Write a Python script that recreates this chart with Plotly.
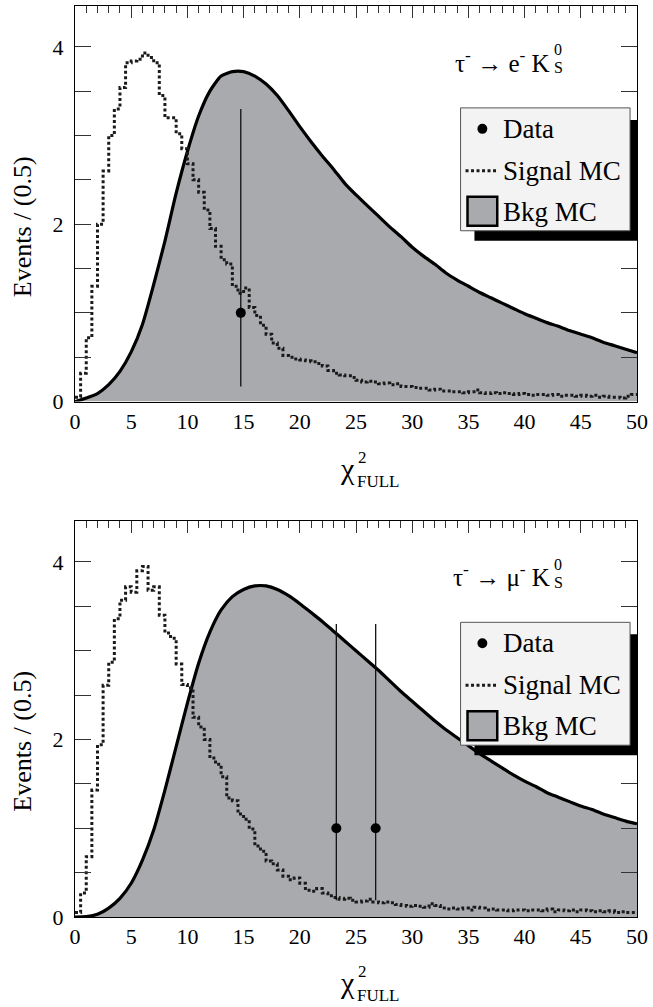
import plotly.graph_objects as go

# ---------------- data ----------------
bin_edges = [i * 0.5 for i in range(101)]  # 0.5-wide bins from 0 to 50

signal_top = [
    0.05, 0.32, 0.72, 1.30, 2.00, 2.60, 3.00, 3.30, 3.54, 3.82,
    3.84, 3.86, 3.93, 3.88, 3.82, 3.45, 3.20, 3.20, 3.02, 2.85,
    2.68, 2.50, 2.36, 2.16, 1.95, 1.75, 1.60, 1.55, 1.30, 1.22,
    1.28, 1.06, 0.97, 0.86, 0.76, 0.66, 0.60, 0.52, 0.50, 0.48,
    0.47, 0.46, 0.45, 0.43, 0.40, 0.35, 0.32, 0.30, 0.29, 0.27,
    0.24, 0.22, 0.23, 0.22, 0.20, 0.21, 0.19, 0.20, 0.17, 0.17,
    0.16, 0.15, 0.15, 0.13, 0.14, 0.12, 0.12, 0.11, 0.11, 0.10,
    0.11, 0.13, 0.10, 0.09, 0.10, 0.09, 0.10, 0.09, 0.08, 0.09,
    0.08, 0.07, 0.08, 0.08, 0.07, 0.08, 0.06, 0.07, 0.07, 0.06,
    0.07, 0.06, 0.07, 0.05, 0.06, 0.05, 0.05, 0.04, 0.06, 0.08,
]

signal_bot = [
    0.05, 0.27, 0.68, 1.43, 1.94, 2.61, 2.87, 3.36, 3.57, 3.72,
    3.66, 3.90, 3.95, 3.68, 3.72, 3.40, 3.20, 3.14, 2.85, 2.62,
    2.58, 2.25, 2.14, 2.00, 1.79, 1.72, 1.58, 1.34, 1.31, 1.16,
    1.10, 0.99, 0.80, 0.74, 0.63, 0.60, 0.53, 0.46, 0.42, 0.44,
    0.38, 0.30, 0.29, 0.32, 0.27, 0.24, 0.22, 0.20, 0.21, 0.19,
    0.17, 0.18, 0.20, 0.17, 0.16, 0.17, 0.16, 0.14, 0.13, 0.12,
    0.13, 0.12, 0.11, 0.15, 0.13, 0.10, 0.09, 0.10, 0.09, 0.10,
    0.08, 0.11, 0.10, 0.08, 0.09, 0.08, 0.08, 0.07, 0.08, 0.08,
    0.07, 0.08, 0.08, 0.07, 0.09, 0.06, 0.08, 0.07, 0.08, 0.06,
    0.08, 0.07, 0.06, 0.07, 0.06, 0.07, 0.05, 0.06, 0.05, 0.05,
]

bkg_x = list(range(0, 51))
bkg_top = [
    0.00, 0.04, 0.09, 0.19, 0.34, 0.56, 0.87, 1.32, 1.81, 2.35,
    2.82, 3.22, 3.50, 3.67, 3.72, 3.72, 3.67, 3.58, 3.45, 3.28,
    3.10, 2.93, 2.77, 2.62, 2.46, 2.33, 2.21, 2.09, 1.97, 1.86,
    1.74, 1.64, 1.55, 1.45, 1.37, 1.30, 1.23, 1.17, 1.11, 1.05,
    0.99, 0.94, 0.89, 0.85, 0.80, 0.76, 0.72, 0.67, 0.63, 0.59,
    0.55,
]
bkg_bot = [
    0.00, 0.005, 0.03, 0.10, 0.21, 0.38, 0.64, 0.98, 1.43, 1.92,
    2.41, 2.86, 3.21, 3.46, 3.61, 3.69, 3.73, 3.73, 3.69, 3.62,
    3.53, 3.43, 3.33, 3.22, 3.11, 3.00, 2.89, 2.78, 2.66, 2.54,
    2.43, 2.32, 2.21, 2.11, 2.02, 1.93, 1.84, 1.76, 1.68, 1.60,
    1.53, 1.47, 1.40, 1.35, 1.30, 1.25, 1.21, 1.16, 1.12, 1.08,
    1.05,
]

data_top_x = [14.75]
data_top_y = [1]
data_top_eup = [2.30]
data_top_edn = [0.83]

data_bot_x = [23.25, 26.75]
data_bot_y = [1, 1]
data_bot_eup = [2.30, 2.30]
data_bot_edn = [0.81, 0.81]

x_ticks = list(range(0, 51, 5))
y_ticks = [0, 2, 4]

# ---------------- style ----------------
FONT = "Liberation Serif"
FILL = "#a9aaad"
W, H = 653, 1007
ML, MR, MT, MB = 75, 11, 5, 90
PW, PH = W - ML - MR, H - MT - MB


def px(xp):
    return (xp - ML) / PW


def py(yp):
    return (H - MB - yp) / PH


top_dom = [py(401), 1.0]
bot_dom = [0.0, py(520.7)]

fig = go.Figure()


def step_xy(vals):
    xs = list(bin_edges[:-1]) + [bin_edges[-1]]
    ys = list(vals) + [vals[-1]]
    return xs, ys


for xa, ya, bkg, sig, dx, dy, eup, edn in [
    ("x", "y", bkg_top, signal_top, data_top_x, data_top_y, data_top_eup, data_top_edn),
    ("x2", "y2", bkg_bot, signal_bot, data_bot_x, data_bot_y, data_bot_eup, data_bot_edn),
]:
    fig.add_trace(go.Scatter(
        x=bkg_x, y=bkg, xaxis=xa, yaxis=ya, mode="lines",
        line=dict(color="black", width=3.2, shape="spline", smoothing=0.6),
        fill="tozeroy", fillcolor=FILL, showlegend=False, hoverinfo="skip"))
    sx, sy = step_xy(sig)
    fig.add_trace(go.Scatter(
        x=sx, y=sy, xaxis=xa, yaxis=ya, mode="lines",
        line=dict(color="#1a1a1a", width=3, shape="hv", dash="3px,2.5px"),
        showlegend=False, hoverinfo="skip"))
    fig.add_trace(go.Scatter(
        x=dx, y=dy, xaxis=xa, yaxis=ya, mode="markers",
        marker=dict(color="black", size=10),
        error_y=dict(type="data", symmetric=False, array=eup, arrayminus=edn,
                     width=0, thickness=1.3, color="#111"),
        showlegend=False, hoverinfo="skip"))

# invisible traces so that the top-tick overlay axes get drawn
for xa, ya in [("x3", "y"), ("x4", "y2")]:
    fig.add_trace(go.Scatter(x=[0], y=[0], xaxis=xa, yaxis=ya, mode="markers",
                             marker=dict(opacity=0), showlegend=False, hoverinfo="skip"))

tickfont = dict(family=FONT, size=22, color="black")

xbase = dict(range=[0, 50], showgrid=False, zeroline=False, showline=True,
             linecolor="black", linewidth=1, mirror=True, ticks="",
             tickvals=x_ticks, tickfont=tickfont)
xtop = dict(range=[0, 50], showgrid=False, zeroline=False, showline=False,
            side="top", ticks="inside", ticklen=12, tickwidth=1, tickcolor="#333",
            dtick=5, tick0=0, showticklabels=False,
            minor=dict(dtick=1, ticklen=7, ticks="inside", tickcolor="#333", tickwidth=1))
ybase = dict(range=[0, 4.46], showgrid=False, zeroline=False, showline=True,
             linecolor="black", linewidth=1, mirror="allticks", ticks="inside",
             ticklen=16, tickwidth=1, tickcolor="#333", tickvals=y_ticks,
             tickfont=tickfont, ticklabelstandoff=6,
             minor=dict(dtick=0.5, ticklen=8, ticks="inside", tickcolor="#333", tickwidth=1))

fig.update_layout(
    width=W, height=H, margin=dict(l=ML, r=MR, t=MT, b=MB),
    paper_bgcolor="white", plot_bgcolor="white",
    font=dict(family=FONT, color="black", size=22),
    xaxis=dict(**xbase, anchor="y", domain=[0, 1]),
    xaxis2=dict(**xbase, anchor="y2", domain=[0, 1]),
    xaxis3=dict(**xtop, overlaying="x", anchor="y"),
    xaxis4=dict(**xtop, overlaying="x2", anchor="y2"),
    yaxis=dict(**ybase, anchor="x", domain=top_dom),
    yaxis2=dict(**ybase, anchor="x2", domain=bot_dom),
    showlegend=False,
)

shapes = []
annotations = []


def txt(xp, yp, text, size, xanchor="left", angle=None):
    a = dict(x=px(xp), y=py(yp), xref="paper", yref="paper",
             text=text, showarrow=False, xanchor=xanchor, yanchor="middle",
             font=dict(family=FONT, size=size, color="black"))
    if angle is not None:
        a["textangle"] = angle
    annotations.append(a)


def rect(x0, y0, x1, y1, fill, line_color=None, lw=0):
    shapes.append(dict(type="rect", xref="paper", yref="paper",
                       x0=px(x0), x1=px(x1), y0=py(y1), y1=py(y0),
                       fillcolor=fill, line=dict(color=line_color or fill, width=lw)))


for off, lep in [(0, "e"), (515, "μ")]:
    # legend shadow + box
    rect(478, 119 + off, 643, 240 + off, "black")
    rect(464, 107 + off, 635, 230 + off, "#f3f3f3", "#555", 1)
    # Data marker
    shapes.append(dict(type="circle", xref="paper", yref="paper",
                       x0=px(481), x1=px(491), y0=py(133 + off), y1=py(123 + off),
                       fillcolor="black", line=dict(color="black", width=0)))
    # Signal MC dotted line
    shapes.append(dict(type="line", xref="paper", yref="paper",
                       x0=px(469), x1=px(501), y0=py(170 + off), y1=py(170 + off),
                       line=dict(color="#1a1a1a", width=3, dash="3px,2.5px")))
    # Bkg MC box
    rect(471, 196 + off, 501, 225 + off, FILL, "black", 2.5)
    txt(505, 128 + off, "Data", 27)
    txt(505, 170 + off, "Signal MC", 27)
    txt(505, 211 + off, "Bkg MC", 27)
    # decay label
    txt(556, 60 + off, "τ<sup>-</sup> → " + lep + "<sup>-</sup> K", 25, xanchor="right")
    txt(556, 49 + off, "0", 16)
    txt(556, 67 + off, "S", 16)
    # y title
    txt(22, 226 + off, "Events / (0.5)", 26, xanchor="center", angle=-90)
    # x title
    txt(350, 468 + off, "χ", 30, xanchor="center")
    txt(358, 457 + off, "2", 17)
    txt(357, 481 + off, "FULL", 17)

fig.update_layout(shapes=shapes, annotations=annotations)

fig.write_html("out.html")
